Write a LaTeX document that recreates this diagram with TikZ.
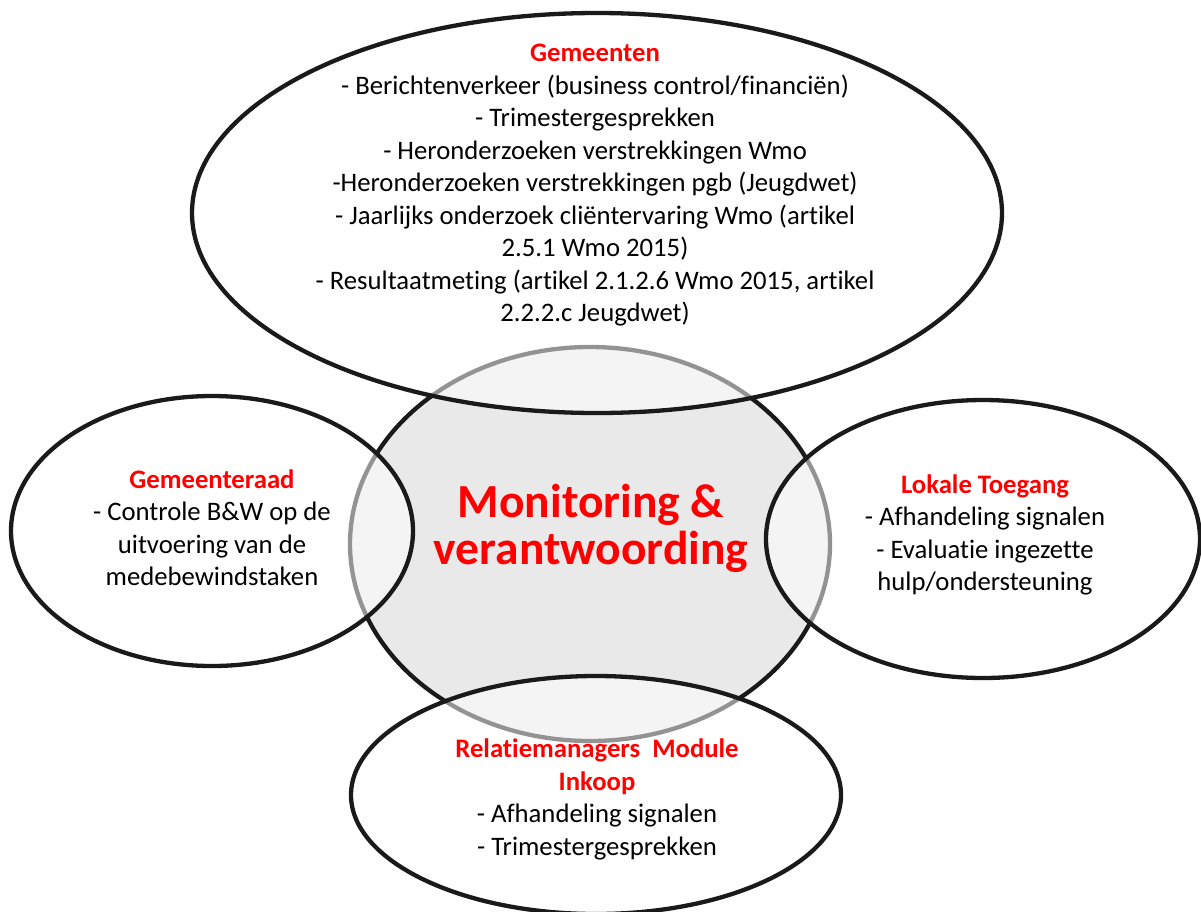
\documentclass[tikz,border=0pt]{standalone}
\usepackage{fontspec}
\setmainfont{Carlito}[Ligatures=NoCommon]

\definecolor{hubgray}{HTML}{E9E9E9}
\definecolor{rimblack}{HTML}{1A1A1A}
\newcommand{\kop}[1]{\textcolor{red}{\textbf{#1}}}

\tikzset{
	hub/.style={draw=rimblack, line width=4.3pt, fill=hubgray},
	bubble/.style={draw=rimblack, line width=4.3pt, fill=white, fill opacity=0.53},
	bodytext/.style={align=center, inner sep=0pt, font=\fontsize{26.7}{32.5}\selectfont},
	hubtext/.style={align=center, inner sep=0pt, text=red, font=\fontsize{47.5}{47}\selectfont\bfseries}
}

\begin{document}
\begin{tikzpicture}[x=1pt,y=-1pt]
	
	\useasboundingbox (0,0) rectangle (1201,911);
	
	% Central circle
	\draw[hub] (590,544) ellipse[x radius=240pt, y radius=197pt];
	
	% Outer ellipses
	%% Gemeenten
	\draw[bubble] (597,213) ellipse[x radius=405pt, y radius=200pt];
	%% Gemeenteraad
	\draw[bubble] (212,531) ellipse[x radius=201pt, y radius=135pt];
	%% Lokale Toegang
	\draw[bubble] (983,539) ellipse[x radius=217pt, y radius=139pt];
	%% Relatiemanagers
	\draw[bubble] (596,795) ellipse[x radius=245pt, y radius=119pt];
	
	% Texts
	\node[hubtext] (monitoring) at (591,528) {Monitoring \&\\verantwoording};
	
	\node[bodytext] (gemeenten) at (595,185.5) {\kop{Gemeenten}\\
		- Berichtenverkeer (business control/financiën)\\
		- Trimestergesprekken\\
		- Heronderzoeken verstrekkingen Wmo\\
		-Heronderzoeken verstrekkingen pgb (Jeugdwet)\\
		- Jaarlijks onderzoek cliëntervaring Wmo (artikel\\
		2.5.1 Wmo 2015)\\
		- Resultaatmeting (artikel 2.1.2.6 Wmo 2015, artikel\\
		2.2.2.c Jeugdwet)};
	
	\node[bodytext] (gemeenteraad) at (212,527.5) {\kop{Gemeenteraad}\\
		- Controle B\&W op de\\
		uitvoering van de\\
		medebewindstaken};
	
	\node[bodytext] (toegang) at (985,535) {\kop{Lokale Toegang}\\
		- Afhandeling signalen\\
		- Evaluatie ingezette\\
		hulp/ondersteuning};
	
	\node[bodytext] (inkoop) at (597,799.5) {\kop{Relatiemanagers\ \ Module}\\
		\kop{Inkoop}\\
		- Afhandeling signalen\\
		- Trimestergesprekken};
	
\end{tikzpicture}
\end{document}
